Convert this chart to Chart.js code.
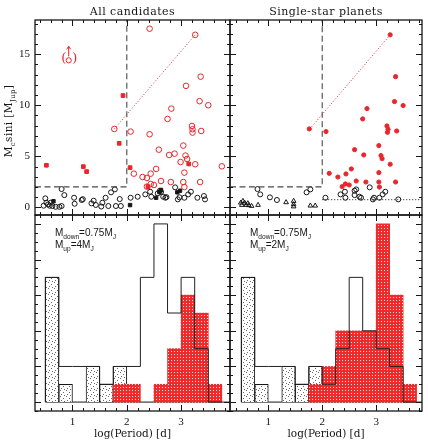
<!DOCTYPE html>
<html>
<head>
<meta charset="utf-8">
<script src="https://cdn.jsdelivr.net/npm/chart.js@4.4.1/dist/chart.umd.min.js"></script>
<style>
  body { margin: 0; background: #fff; }
  #wrap { position: relative; width: 428px; height: 440px; }
  #wrap canvas { position: absolute; left: 0; top: 0; }
</style>
</head>
<body>
<div id="wrap">
  <canvas id="tl" width="428" height="440"></canvas>
  <canvas id="tr" width="428" height="440"></canvas>
  <canvas id="bl" width="428" height="440"></canvas>
  <canvas id="br" width="428" height="440"></canvas>
</div>
<script>
var X_TICKS = [1, 2, 3];
var MASS_TICKS = [0, 5, 10, 15];

var PERIOD_CUT = 2;
var MASS_CUT = 2;
var M_DOWN = 0.75;
var M_UP_LEFT = 4;
var M_UP_RIGHT = 2;

// top left: all candidates  [log P, M sini]
var allRedOpen = [
    [2.42, 17.5], [3.26, 16.9], [3.36, 12.8], [3.09, 11.9], [3.34, 10.4], [3.50, 10.0],
    [2.82, 9.67], [2.75, 8.66], [3.20, 7.97], [3.21, 7.65], [3.21, 7.32], [3.37, 7.48],
    [1.77, 7.68], [2.07, 7.42], [2.42, 7.16], [3.04, 6.05], [2.59, 5.65], [2.88, 5.26],
    [2.78, 5.13], [3.08, 5.07], [3.11, 4.74], [2.99, 4.44], [3.26, 4.22], [3.75, 4.02],
    [2.54, 3.76], [3.06, 3.40], [2.13, 3.30], [2.29, 2.97], [2.37, 2.88], [2.44, 3.30],
    [2.63, 2.58], [2.81, 2.48], [3.04, 2.48], [3.35, 2.48], [2.44, 2.29], [2.50, 2.19],
    [2.37, 2.03], [3.06, 1.99]
];
var allRedSquare = [
    [0.52, 4.12], [1.20, 3.99], [1.26, 3.50], [1.93, 10.95], [1.86, 6.27],
    [2.06, 3.89], [3.14, 4.25], [2.39, 2.03]
];
var allBlackOpen = [
    [0.47, 0.16], [0.50, 0.88], [0.52, 0.45], [0.55, 0.29], [0.58, 0.16], [0.60, 0.45],
    [0.63, 0.13], [0.69, 0.05], [0.76, 0.05], [0.80, 0.13], [0.80, 1.79], [0.85, 1.20],
    [1.03, 0.94], [1.04, 0.35], [1.17, 0.72], [1.19, 0.80], [1.35, 0.39], [1.39, 0.65],
    [1.43, 0.23], [1.53, 0.08], [1.55, 0.45], [1.61, 0.94], [1.66, 0.13], [1.71, 1.47],
    [1.78, 1.76], [1.80, 0.13], [1.87, 0.81], [1.89, 0.13], [2.07, 0.94], [2.20, 1.04],
    [2.34, 1.27], [2.43, 1.53], [2.45, 1.04], [2.57, 1.37], [2.61, 1.63], [2.63, 1.50],
    [2.67, 1.04], [2.71, 0.94], [2.73, 1.00], [2.89, 1.96], [2.94, 0.78], [2.97, 0.98],
    [3.06, 0.94], [3.13, 1.27], [3.18, 1.53], [3.30, 0.94], [3.42, 1.11], [3.44, 0.78]
];
var allBlackSquare = [
    [0.65, 0.60], [2.06, 0.22], [2.54, 0.94], [2.60, 1.50], [2.63, 1.70], [2.93, 1.47], [2.98, 1.63]
];
var allFlagged = [[0.93, 14.4]];
var pairLine = [[1.77, 7.68], [3.26, 16.9]];

// top right: single-star planets
var singleRed = [
    [3.26, 16.9], [1.76, 7.68], [3.36, 12.8], [3.34, 10.36], [3.50, 9.97], [2.83, 9.67],
    [2.75, 8.66], [3.20, 7.97], [3.22, 7.65], [3.21, 7.35], [3.38, 7.48], [2.07, 7.42],
    [3.05, 6.05], [2.60, 5.65], [3.09, 5.07], [3.11, 4.77], [2.77, 5.13], [3.26, 4.22],
    [2.54, 3.76], [3.05, 3.40], [2.13, 3.33], [2.29, 2.97], [2.44, 3.27], [2.63, 2.58],
    [2.81, 2.48], [3.05, 2.48], [3.36, 2.48], [2.43, 2.29], [2.50, 2.19], [2.37, 2.03],
    [3.06, 1.99]
];
var singleBlackOpen = [
    [0.80, 1.79], [0.85, 1.27], [1.03, 0.98], [1.16, 0.72], [1.71, 1.47], [1.78, 1.76],
    [2.06, 0.94], [2.34, 1.27], [2.42, 1.53], [2.43, 0.94], [2.60, 1.63], [2.63, 1.76],
    [2.60, 1.20], [2.69, 1.04], [2.72, 0.94], [2.88, 1.96], [2.94, 0.78], [2.96, 0.94],
    [3.06, 0.94], [3.12, 1.27], [3.17, 1.53], [3.41, 0.78]
];
var singleTriangle = [
    [0.49, 0.45], [0.51, 0.23], [0.53, 0.62], [0.56, 0.45], [0.59, 0.23], [0.62, 0.39],
    [0.64, 0.20], [0.69, 0.13], [0.81, 0.23], [1.33, 0.49], [1.47, 0.62], [1.47, 0.29],
    [1.47, 0.08], [1.78, 0.16], [1.87, 0.16]
];

// histograms, bins of 0.25 in log P starting at 0.5
var BIN_START = 0.5;
var BIN_WIDTH = 0.25;
var leftStipple  = [7, 1, 0, 2, 1, 2, 0, 0, 0, 0, 0, 0, 0];
var leftRed      = [0, 0, 0, 0, 0, 1, 1, 0, 1, 3, 6, 5, 1];
var leftOutline  = [7, 2, 2, 2, 1, 2, 2, 7, 10, 5, 7, 3, 0];
var rightStipple = [7, 1, 0, 2, 1, 2, 0, 0, 0, 0, 0, 0, 0];
var rightRed     = [0, 0, 0, 0, 0, 1, 2, 4, 4, 4, 10, 6, 1];
var rightOutline = [7, 2, 2, 2, 1, 2, 1, 3, 7, 4, 3, 2, 0];

var RED = '#e8262b';
var INK = '#161616';
var X_LEFT = [0.31, 3.9];
var X_RIGHT = [0.29, 3.85];
var MASS_RANGE = [-0.75, 18.35];
var COUNT_RANGE = [-0.5, 10.5];

function pts(list) {
    return list.map(function(p) { return {x: p[0], y: p[1]}; });
}

function markers(list, style, radius, color, filled) {
    return {
        type: 'scatter',
        data: pts(list),
        pointStyle: style,
        pointRadius: radius,
        pointBorderWidth: 1,
        pointBorderColor: color,
        borderColor: color,
        pointBackgroundColor: filled ? color : 'rgba(0,0,0,0)',
        showLine: false
    };
}

function guide(list, color, dash, width) {
    return {
        type: 'line',
        data: pts(list),
        borderColor: color,
        borderWidth: width || 1,
        borderDash: dash,
        pointRadius: 0,
        fill: false,
        tension: 0,
        order: -1
    };
}

function bars(counts, fill, border, bw, order) {
    return {
        type: 'bar',
        data: counts.map(function(c, k) {
            return {x: BIN_START + (k + 0.5) * BIN_WIDTH, y: c > 0 ? c : null};
        }),
        backgroundColor: fill,
        borderColor: border,
        borderWidth: bw,
        borderSkipped: 'start',
        barPercentage: 1,
        categoryPercentage: 1,
        grouped: false,
        order: order
    };
}

function outline(counts) {
    var data = [{x: BIN_START, y: 0}];
    counts.forEach(function(c, k) {
        data.push({x: BIN_START + k * BIN_WIDTH, y: c});
    });
    data.push({x: BIN_START + counts.length * BIN_WIDTH, y: 0});
    return {type: 'line', data: data, stepped: true, borderColor: '#222', borderWidth: 1, pointRadius: 0, fill: false, order: 0};
}

function makePattern(ctx, size, bg, dot, dots) {
    var c = document.createElement('canvas');
    c.width = size; c.height = size;
    var g = c.getContext('2d');
    g.fillStyle = bg;
    g.fillRect(0, 0, size, size);
    g.fillStyle = dot;
    dots.forEach(function(d) { g.fillRect(d[0], d[1], 1, 1); });
    return ctx.createPattern(c, 'repeat');
}

function isMajor(v, major) {
    var r = v / major;
    return Math.abs(r - Math.round(r)) < 1e-6;
}

// box around the panel with inward ticks on all four sides
function frameAndTicks(xStep, xMajor, yStep, yMajor) {
    return {
        id: 'frameAndTicks',
        afterDatasetsDraw: function(chart) {
            var ctx = chart.ctx, a = chart.chartArea;
            var sx = chart.scales.x, sy = chart.scales.y;
            var k, v, p, len;
            ctx.save();
            ctx.strokeStyle = INK;
            ctx.lineWidth = 1;
            ctx.beginPath();
            for (k = Math.ceil(sx.min / xStep - 1e-6); k * xStep <= sx.max + 1e-6; k++) {
                v = k * xStep;
                p = Math.round(sx.getPixelForValue(v)) + 0.5;
                len = isMajor(v, xMajor) ? 6 : 3;
                ctx.moveTo(p, a.bottom); ctx.lineTo(p, a.bottom - len);
                ctx.moveTo(p, a.top); ctx.lineTo(p, a.top + len);
            }
            for (k = Math.ceil(sy.min / yStep - 1e-6); k * yStep <= sy.max + 1e-6; k++) {
                v = k * yStep;
                p = Math.round(sy.getPixelForValue(v)) + 0.5;
                len = isMajor(v, yMajor) ? 6 : 3;
                ctx.moveTo(a.left, p); ctx.lineTo(a.left + len, p);
                ctx.moveTo(a.right, p); ctx.lineTo(a.right - len, p);
            }
            ctx.stroke();
            ctx.lineWidth = 1.3;
            ctx.strokeRect(a.left, a.top, a.right - a.left, a.bottom - a.top);
            ctx.restore();
        }
    };
}

// text with subscripts: parts = [[text, isSub], ...]
function richWidth(ctx, parts, size, family) {
    var w = 0;
    parts.forEach(function(p) {
        ctx.font = (p[1] ? size * 0.66 : size) + 'px ' + family;
        w += ctx.measureText(p[0]).width;
    });
    return w;
}
function drawRich(ctx, parts, x, y, size, family) {
    var cx = x;
    parts.forEach(function(p) {
        ctx.font = (p[1] ? size * 0.66 : size) + 'px ' + family;
        ctx.fillText(p[0], cx, y + (p[1] ? size * 0.3 : 0));
        cx += ctx.measureText(p[0]).width;
    });
}

function titleText(text) {
    return {
        id: 'panelTitle',
        afterDraw: function(chart) {
            var ctx = chart.ctx, a = chart.chartArea;
            ctx.save();
            ctx.fillStyle = INK;
            ctx.letterSpacing = '0.45px';
            ctx.font = '11px "DejaVu Serif"';
            ctx.textAlign = 'center';
            ctx.textBaseline = 'alphabetic';
            ctx.fillText(text, (a.left + a.right) / 2, a.top - 5.5);
            ctx.restore();
        }
    };
}

function massNote(mUp) {
    return {
        id: 'massNote',
        afterDraw: function(chart) {
            var ctx = chart.ctx, a = chart.chartArea;
            ctx.save();
            ctx.fillStyle = INK;
            ctx.textBaseline = 'alphabetic';
            drawRich(ctx, [['M', 0], ['down', 1], ['=' + M_DOWN + 'M', 0], ['J', 1]], a.left + 20, a.top + 21, 10, '"Liberation Sans"');
            drawRich(ctx, [['M', 0], ['up', 1], ['=' + mUp + 'M', 0], ['J', 1]], a.left + 20, a.top + 33, 10, '"Liberation Sans"');
            ctx.restore();
        }
    };
}

var massAxisLabel = {
    id: 'massAxisLabel',
    afterDraw: function(chart) {
        var ctx = chart.ctx;
        var parts = [['M', 0], ['c', 1], ['sini [M', 0], ['Jup', 1], [']', 0]];
        ctx.save();
        ctx.fillStyle = INK;
        ctx.letterSpacing = '0.4px';
        ctx.translate(12, 121);
        ctx.rotate(-Math.PI / 2);
        var w = richWidth(ctx, parts, 10.5, '"DejaVu Serif"');
        drawRich(ctx, parts, -w / 2, 0, 10.5, '"DejaVu Serif"');
        ctx.restore();
    }
};

// the flagged candidate: (o) with an upward arrow
var flagMark = {
    id: 'flagMark',
    afterDatasetsDraw: function(chart) {
        var ctx = chart.ctx;
        var px = chart.scales.x.getPixelForValue(allFlagged[0][0]);
        var py = chart.scales.y.getPixelForValue(allFlagged[0][1]);
        ctx.save();
        ctx.fillStyle = RED;
        ctx.strokeStyle = RED;
        ctx.font = '13px "DejaVu Serif"';
        ctx.textAlign = 'center';
        ctx.textBaseline = 'alphabetic';
        ctx.fillText('(', px - 5, py + 1.5);
        ctx.fillText(')', px + 6, py + 1.5);
        ctx.lineWidth = 1;
        ctx.beginPath();
        ctx.moveTo(px, py - 4);
        ctx.lineTo(px, py - 14);
        ctx.moveTo(px - 2, py - 11);
        ctx.lineTo(px, py - 14);
        ctx.lineTo(px + 2, py - 11);
        ctx.stroke();
        ctx.restore();
    }
};

function baseScales(xr, yr, showX, showY) {
    var tickFont = {family: '"Liberation Serif"', size: 11};
    return {
        x: {
            type: 'linear', min: xr[0], max: xr[1], offset: false, display: showX,
            grid: {display: false, drawTicks: false}, border: {display: false},
            ticks: {font: tickFont, color: INK, padding: 4.5, maxRotation: 0},
            afterBuildTicks: function(axis) {
                axis.ticks = X_TICKS.map(function(v) { return {value: v}; });
            },
            afterFit: function(axis) { axis.height = showX ? 29 : 0; },
            title: {
                display: true, text: 'log(Period) [d]', color: INK,
                font: {family: '"DejaVu Serif"', size: 10.5, lineHeight: 1},
                padding: {top: 0, bottom: 0}
            }
        },
        y: {
            type: 'linear', min: yr[0], max: yr[1], display: showY,
            grid: {display: false, drawTicks: false}, border: {display: false},
            ticks: {font: tickFont, color: INK, padding: 5},
            afterBuildTicks: function(axis) {
                axis.ticks = MASS_TICKS.map(function(v) { return {value: v}; });
            },
            afterFit: function(axis) { axis.width = showY ? 35 : 0; }
        }
    };
}

function baseOptions(padding, scales) {
    return {
        responsive: false,
        animation: false,
        events: [],
        layout: {padding: padding},
        plugins: {legend: {display: false}, tooltip: {enabled: false}, title: {display: false}},
        scales: scales
    };
}

document.addEventListener('DOMContentLoaded', function() {
    var cutTop = [[X_LEFT[0], MASS_CUT], [PERIOD_CUT, MASS_CUT], [PERIOD_CUT, MASS_RANGE[1]]];
    var cutTopR = [[X_RIGHT[0], MASS_CUT], [PERIOD_CUT, MASS_CUT], [PERIOD_CUT, MASS_RANGE[1]]];

    new Chart(document.getElementById('tl'), {
        type: 'scatter',
        data: {
            datasets: [
                guide(cutTop, '#4a4a4a', [6, 3.5], 1.1),
                guide(pairLine, RED, [1, 2], 1),
                markers(allRedSquare, 'rect', 2.6, RED, true),
                markers(allRedOpen, 'circle', 2.8, RED, false),
                markers(allFlagged, 'circle', 2.6, RED, false),
                markers(allBlackSquare, 'rect', 2.4, INK, true),
                markers(allBlackOpen, 'circle', 2.5, INK, false)
            ]
        },
        options: baseOptions({left: 0, top: 20, right: 198, bottom: 225}, baseScales(X_LEFT, MASS_RANGE, false, true)),
        plugins: [frameAndTicks(0.2, 1, 1, 5), titleText('All candidates'), massAxisLabel, flagMark]
    });

    new Chart(document.getElementById('tr'), {
        type: 'scatter',
        data: {
            datasets: [
                guide(cutTopR, '#4a4a4a', [6, 3.5], 1.1),
                guide([[PERIOD_CUT, M_DOWN], [X_RIGHT[1], M_DOWN]], INK, [1, 2], 1),
                guide(pairLine, RED, [1, 2], 1),
                markers(singleRed, 'circle', 2.1, RED, true),
                markers(singleBlackOpen, 'circle', 2.5, INK, false),
                markers(singleTriangle, 'triangle', 2.7, INK, false)
            ]
        },
        options: baseOptions({left: 230, top: 20, right: 6, bottom: 225}, baseScales(X_RIGHT, MASS_RANGE, false, false)),
        plugins: [frameAndTicks(0.2, 1, 1, 5), titleText('Single-star planets')]
    });

    function histChart(id, padding, xr, stipple, red, total, mUp) {
        var ctx = document.getElementById(id).getContext('2d');
        var dots = makePattern(ctx, 6, '#ffffff', 'rgba(40,40,40,0.7)', [[0, 0], [3, 2], [1, 4], [4, 5]]);
        var hatch = makePattern(ctx, 3, '#ee2a2a', '#fbe3e3', [[0, 0]]);
        new Chart(ctx, {
            type: 'bar',
            data: {
                datasets: [
                    outline(total),
                    bars(red, hatch, 'rgba(0,0,0,0)', 0, 1),
                    bars(stipple, dots, INK, 1, 2),
                    {
                        type: 'line',
                        data: [{x: BIN_START, y: 0}, {x: xr[1], y: 0}],
                        borderColor: INK, borderWidth: 1, pointRadius: 0, order: 3
                    }
                ]
            },
            options: baseOptions(padding, (function() {
                var s = baseScales(xr, COUNT_RANGE, true, false);
                s.y.beginAtZero = true;
                return s;
            })()),
            plugins: [frameAndTicks(0.2, 1, 0.5, 2), massNote(mUp)]
        });
    }

    histChart('bl', {left: 35, top: 215, right: 198, bottom: 0}, X_LEFT, leftStipple, leftRed, leftOutline, M_UP_LEFT);
    histChart('br', {left: 230, top: 215, right: 6, bottom: 0}, X_RIGHT, rightStipple, rightRed, rightOutline, M_UP_RIGHT);
});
</script>
</body>
</html>
